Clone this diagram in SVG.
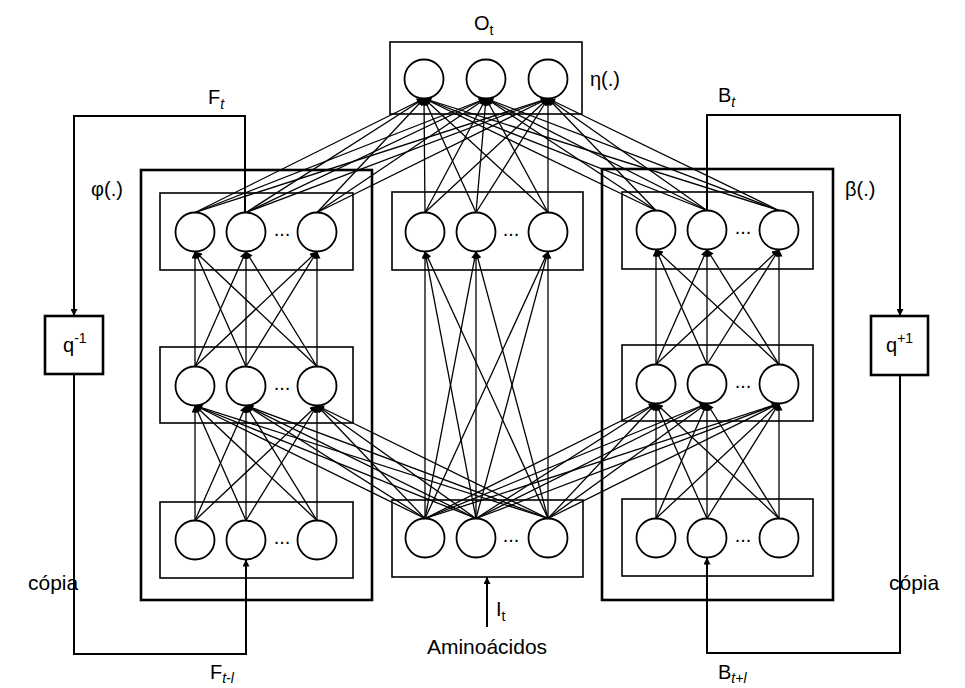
<svg xmlns="http://www.w3.org/2000/svg" width="965" height="688" viewBox="0 0 965 688">
<defs>
<marker id="ah" viewBox="0 0 10 10" refX="10" refY="5" markerWidth="8" markerHeight="7" markerUnits="userSpaceOnUse" orient="auto">
<path d="M0,0 L10,5 L0,10 z" fill="#000"/>
</marker>
<style>
.n{fill:#fff;stroke:#000;stroke-width:1.8}
.ib{fill:none;stroke:#000;stroke-width:1.6}
.ob{fill:none;stroke:#000;stroke-width:2.6}
.c line{stroke:#000;stroke-width:1.3;marker-end:url(#ah)}
.fb{fill:none;stroke:#000;stroke-width:2;marker-end:url(#ah)}
text{font-family:"Liberation Sans",Arial,sans-serif;fill:#000}
.lb{font-size:20px}
.am{font-size:21px}
.sub{font-size:14px}
.dots{font-size:20px;text-anchor:middle}
</style>
</defs>
<rect width="965" height="688" fill="#fff"/>

<!-- boxes -->
<g id="boxes">
<rect class="ib" x="390" y="42" width="192" height="72"/>
<rect class="ob" x="141" y="170" width="231" height="430"/>
<rect class="ob" x="602" y="169" width="231" height="431"/>
<rect class="ib" x="160" y="193" width="193" height="77"/>
<rect class="ib" x="160" y="347" width="193" height="76"/>
<rect class="ib" x="160" y="502" width="193" height="76"/>
<rect class="ib" x="622" y="192" width="191" height="77"/>
<rect class="ib" x="622" y="345" width="191" height="76"/>
<rect class="ib" x="622" y="499" width="191" height="77"/>
<rect class="ib" x="392" y="192" width="191" height="78"/>
<rect class="ib" x="392" y="500" width="191" height="77"/>
<rect class="ob" x="45" y="316" width="58" height="58"/>
<rect class="ob" x="871" y="316" width="57" height="59"/>
</g>

<!-- connectors -->
<g id="connectors" class="c">
<!-- left bottom -> left middle -->
<line x1="195" y1="520.5" x2="195" y2="405.5"/><line x1="195" y1="520.5" x2="246" y2="405.5"/><line x1="195" y1="520.5" x2="317" y2="405.5"/>
<line x1="246" y1="520.5" x2="195" y2="405.5"/><line x1="246" y1="520.5" x2="246" y2="405.5"/><line x1="246" y1="520.5" x2="317" y2="405.5"/>
<line x1="317" y1="520.5" x2="195" y2="405.5"/><line x1="317" y1="520.5" x2="246" y2="405.5"/><line x1="317" y1="520.5" x2="317" y2="405.5"/>
<!-- left middle -> left top -->
<line x1="195" y1="366.5" x2="195" y2="251.5"/><line x1="195" y1="366.5" x2="246" y2="251.5"/><line x1="195" y1="366.5" x2="317" y2="251.5"/>
<line x1="246" y1="366.5" x2="195" y2="251.5"/><line x1="246" y1="366.5" x2="246" y2="251.5"/><line x1="246" y1="366.5" x2="317" y2="251.5"/>
<line x1="317" y1="366.5" x2="195" y2="251.5"/><line x1="317" y1="366.5" x2="246" y2="251.5"/><line x1="317" y1="366.5" x2="317" y2="251.5"/>
<!-- right bottom -> right middle -->
<line x1="656" y1="518.5" x2="656" y2="403.5"/><line x1="656" y1="518.5" x2="707" y2="403.5"/><line x1="656" y1="518.5" x2="779" y2="403.5"/>
<line x1="707" y1="518.5" x2="656" y2="403.5"/><line x1="707" y1="518.5" x2="707" y2="403.5"/><line x1="707" y1="518.5" x2="779" y2="403.5"/>
<line x1="779" y1="518.5" x2="656" y2="403.5"/><line x1="779" y1="518.5" x2="707" y2="403.5"/><line x1="779" y1="518.5" x2="779" y2="403.5"/>
<!-- right middle -> right top -->
<line x1="656" y1="364.5" x2="656" y2="249.5"/><line x1="656" y1="364.5" x2="707" y2="249.5"/><line x1="656" y1="364.5" x2="779" y2="249.5"/>
<line x1="707" y1="364.5" x2="656" y2="249.5"/><line x1="707" y1="364.5" x2="707" y2="249.5"/><line x1="707" y1="364.5" x2="779" y2="249.5"/>
<line x1="779" y1="364.5" x2="656" y2="249.5"/><line x1="779" y1="364.5" x2="707" y2="249.5"/><line x1="779" y1="364.5" x2="779" y2="249.5"/>
<!-- middle bottom -> middle top -->
<line x1="425" y1="518.5" x2="425" y2="251.5"/><line x1="425" y1="518.5" x2="476" y2="251.5"/><line x1="425" y1="518.5" x2="548" y2="251.5"/>
<line x1="476" y1="518.5" x2="425" y2="251.5"/><line x1="476" y1="518.5" x2="476" y2="251.5"/><line x1="476" y1="518.5" x2="548" y2="251.5"/>
<line x1="548" y1="518.5" x2="425" y2="251.5"/><line x1="548" y1="518.5" x2="476" y2="251.5"/><line x1="548" y1="518.5" x2="548" y2="251.5"/>
<!-- middle bottom -> left middle -->
<line x1="425" y1="518.5" x2="195" y2="405.5"/><line x1="425" y1="518.5" x2="246" y2="405.5"/><line x1="425" y1="518.5" x2="317" y2="405.5"/>
<line x1="476" y1="518.5" x2="195" y2="405.5"/><line x1="476" y1="518.5" x2="246" y2="405.5"/><line x1="476" y1="518.5" x2="317" y2="405.5"/>
<line x1="548" y1="518.5" x2="195" y2="405.5"/><line x1="548" y1="518.5" x2="246" y2="405.5"/><line x1="548" y1="518.5" x2="317" y2="405.5"/>
<!-- middle bottom -> right middle -->
<line x1="425" y1="518.5" x2="656" y2="403.5"/><line x1="425" y1="518.5" x2="707" y2="403.5"/><line x1="425" y1="518.5" x2="779" y2="403.5"/>
<line x1="476" y1="518.5" x2="656" y2="403.5"/><line x1="476" y1="518.5" x2="707" y2="403.5"/><line x1="476" y1="518.5" x2="779" y2="403.5"/>
<line x1="548" y1="518.5" x2="656" y2="403.5"/><line x1="548" y1="518.5" x2="707" y2="403.5"/><line x1="548" y1="518.5" x2="779" y2="403.5"/>
<!-- left top -> output -->
<line x1="195" y1="212.5" x2="424" y2="98.5"/><line x1="195" y1="212.5" x2="486" y2="98.5"/><line x1="195" y1="212.5" x2="548" y2="98.5"/>
<line x1="246" y1="212.5" x2="424" y2="98.5"/><line x1="246" y1="212.5" x2="486" y2="98.5"/><line x1="246" y1="212.5" x2="548" y2="98.5"/>
<line x1="317" y1="212.5" x2="424" y2="98.5"/><line x1="317" y1="212.5" x2="486" y2="98.5"/><line x1="317" y1="212.5" x2="548" y2="98.5"/>
<!-- middle top -> output -->
<line x1="425" y1="212.5" x2="424" y2="98.5"/><line x1="425" y1="212.5" x2="486" y2="98.5"/><line x1="425" y1="212.5" x2="548" y2="98.5"/>
<line x1="476" y1="212.5" x2="424" y2="98.5"/><line x1="476" y1="212.5" x2="486" y2="98.5"/><line x1="476" y1="212.5" x2="548" y2="98.5"/>
<line x1="548" y1="212.5" x2="424" y2="98.5"/><line x1="548" y1="212.5" x2="486" y2="98.5"/><line x1="548" y1="212.5" x2="548" y2="98.5"/>
<!-- right top -> output -->
<line x1="656" y1="210.5" x2="424" y2="98.5"/><line x1="656" y1="210.5" x2="486" y2="98.5"/><line x1="656" y1="210.5" x2="548" y2="98.5"/>
<line x1="707" y1="210.5" x2="424" y2="98.5"/><line x1="707" y1="210.5" x2="486" y2="98.5"/><line x1="707" y1="210.5" x2="548" y2="98.5"/>
<line x1="779" y1="210.5" x2="424" y2="98.5"/><line x1="779" y1="210.5" x2="486" y2="98.5"/><line x1="779" y1="210.5" x2="548" y2="98.5"/>
<!-- feedback loops -->
<polyline class="fb" points="245,212.5 245,116 74,116 74,316"/>
<polyline class="fb" points="74,374 74,654 246,654 246,559.5"/>
<polyline class="fb" points="707,210.5 707,115 900,115 900,316"/>
<polyline class="fb" points="900,375 900,653 707,653 707,557.5"/>
<polyline class="fb" points="487,627 487,577"/>
</g>

<!-- nodes -->
<g id="output">
<circle class="n" cx="424" cy="79" r="19.5"/><circle class="n" cx="486" cy="79" r="19.5"/><circle class="n" cx="548" cy="79" r="19.5"/>
</g>
<g id="left-top">
<circle class="n" cx="195" cy="232" r="19.5"/><circle class="n" cx="246" cy="232" r="19.5"/><circle class="n" cx="317" cy="232" r="19.5"/>
<text class="dots" x="282" y="236">...</text>
</g>
<g id="left-mid">
<circle class="n" cx="195" cy="386" r="19.5"/><circle class="n" cx="246" cy="386" r="19.5"/><circle class="n" cx="317" cy="386" r="19.5"/>
<text class="dots" x="282" y="390">...</text>
</g>
<g id="left-bot">
<circle class="n" cx="195" cy="540" r="19.5"/><circle class="n" cx="246" cy="540" r="19.5"/><circle class="n" cx="317" cy="540" r="19.5"/>
<text class="dots" x="282" y="544">...</text>
</g>
<g id="mid-top">
<circle class="n" cx="425" cy="232" r="19.5"/><circle class="n" cx="476" cy="232" r="19.5"/><circle class="n" cx="548" cy="232" r="19.5"/>
<text class="dots" x="511" y="236">...</text>
</g>
<g id="mid-bot">
<circle class="n" cx="425" cy="538" r="19.5"/><circle class="n" cx="476" cy="538" r="19.5"/><circle class="n" cx="548" cy="538" r="19.5"/>
<text class="dots" x="511" y="542">...</text>
</g>
<g id="right-top">
<circle class="n" cx="656" cy="230" r="19.5"/><circle class="n" cx="707" cy="230" r="19.5"/><circle class="n" cx="779" cy="230" r="19.5"/>
<text class="dots" x="743" y="234">...</text>
</g>
<g id="right-mid">
<circle class="n" cx="656" cy="384" r="19.5"/><circle class="n" cx="707" cy="384" r="19.5"/><circle class="n" cx="779" cy="384" r="19.5"/>
<text class="dots" x="743" y="388">...</text>
</g>
<g id="right-bot">
<circle class="n" cx="656" cy="538" r="19.5"/><circle class="n" cx="707" cy="538" r="19.5"/><circle class="n" cx="779" cy="538" r="19.5"/>
<text class="dots" x="743" y="542">...</text>
</g>
<g id="delay-left">
<text class="lb" x="63" y="352">q<tspan class="sub" dy="-9">-1</tspan></text>
</g>
<g id="delay-right">
<text class="lb" x="886" y="352">q<tspan class="sub" dy="-9">+1</tspan></text>
</g>

<!-- labels -->
<g id="labels">
<text class="lb" x="474" y="30">O<tspan class="sub" dy="5">t</tspan></text>
<text class="lb" x="590" y="86">η(.)</text>
<text class="lb" x="91" y="196">φ(.)</text>
<text class="lb" x="845" y="196">β(.)</text>
<text class="lb" x="208" y="104">F<tspan class="sub" dy="5" font-style="italic">t</tspan></text>
<text class="lb" x="718" y="102">B<tspan class="sub" dy="5" font-style="italic">t</tspan></text>
<text class="lb" x="210" y="679">F<tspan class="sub" dy="4" font-style="italic">t-l</tspan></text>
<text class="lb" x="718" y="679">B<tspan class="sub" dy="4" font-style="italic">t+l</tspan></text>
<text class="am" x="28" y="590">cópia</text>
<text class="am" x="889" y="590">cópia</text>
<text class="lb" x="496" y="616">I<tspan class="sub" dy="5">t</tspan></text>
<text class="am" x="487" y="654" text-anchor="middle">Aminoácidos</text>
</g>
</svg>
